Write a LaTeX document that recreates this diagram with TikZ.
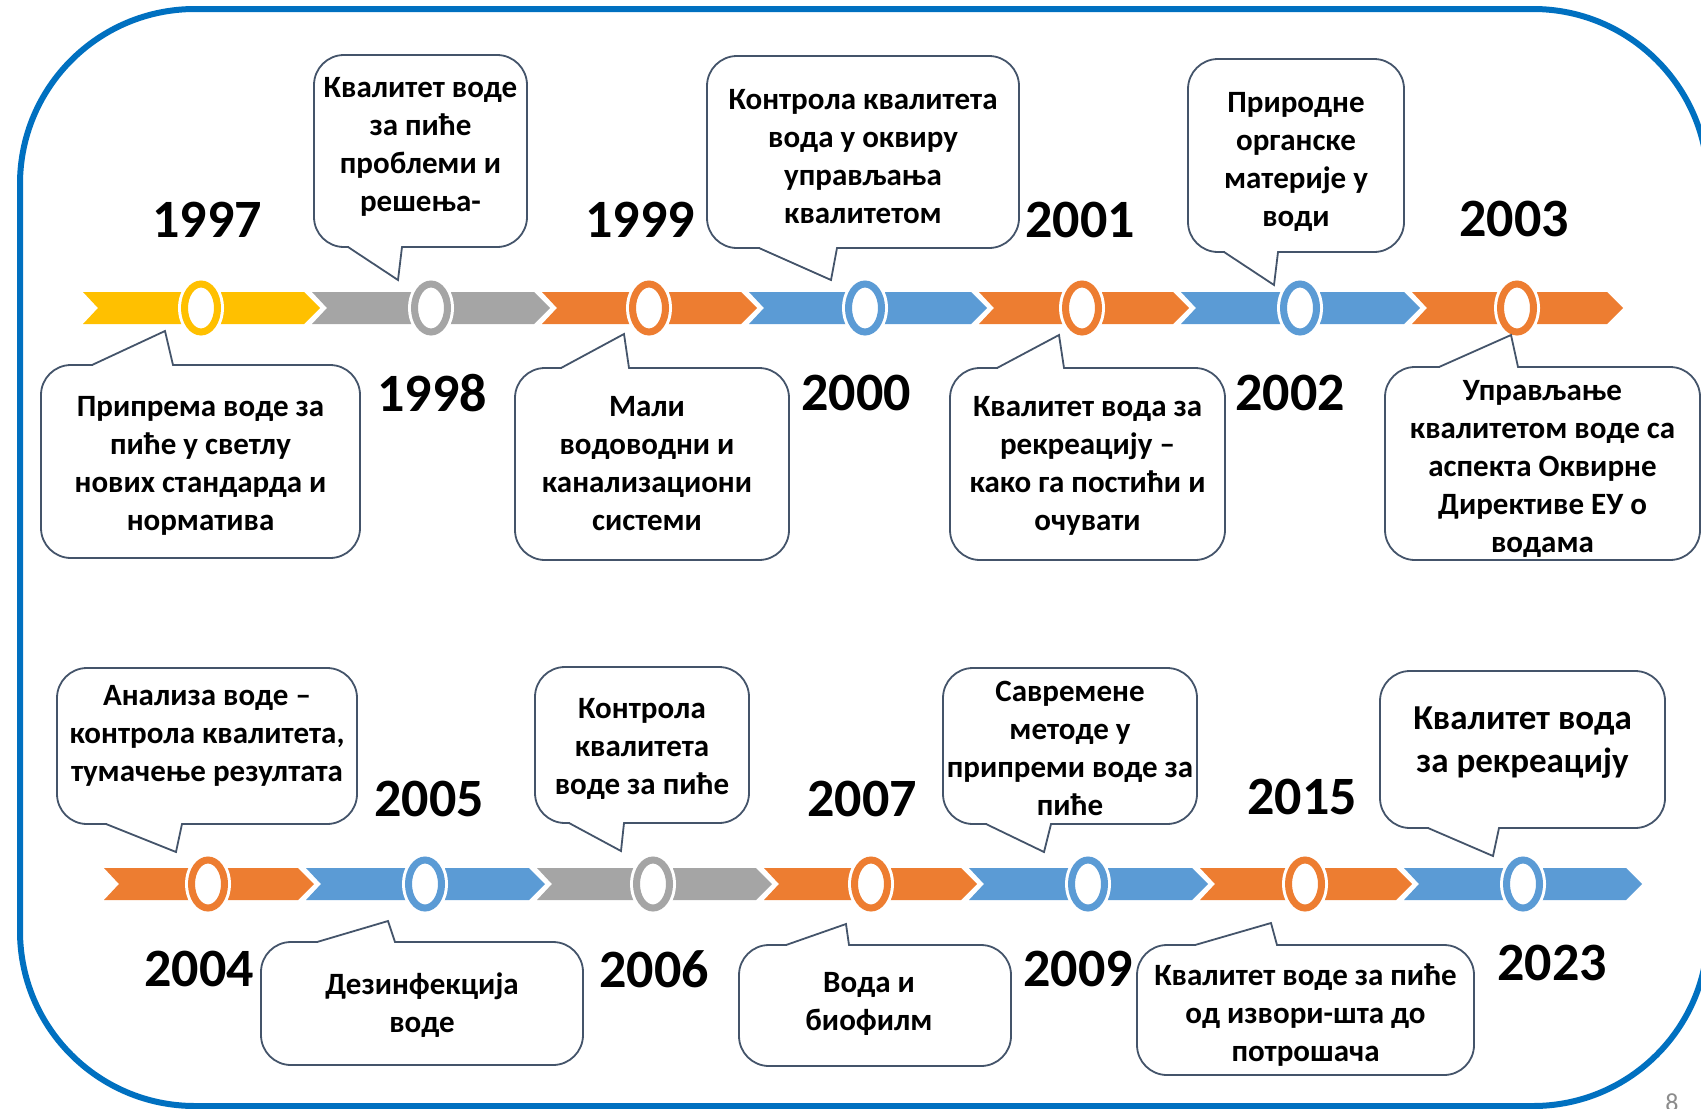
\documentclass[tikz,border=0pt]{standalone}
\usepackage{fontspec}
\setmainfont{Carlito}
\usetikzlibrary{shapes.geometric,fit}
\definecolor{ylw}{HTML}{FFC000}
\definecolor{gry}{HTML}{A5A5A5}
\definecolor{org}{HTML}{ED7D31}
\definecolor{blu}{HTML}{5B9BD5}
\definecolor{framecol}{HTML}{0070C0}
\definecolor{slate}{HTML}{44546A}

\begin{document}
\begin{tikzpicture}[x=0.5pt, y=-0.5pt,
  frame/.style={draw=framecol, line width=3pt, rounded corners=87.5pt},
  ring/.style={ellipse, minimum width=16.5pt, minimum height=24pt, inner sep=0pt, line width=3.5pt, fill=white, preaction={draw=white, line width=6.5pt}},
  year/.style={inner sep=0pt, font=\fontsize{27}{27}\selectfont\bfseries},
  callout/.style={draw=slate, line width=0.9pt, fill=white, rounded corners=15pt, inner sep=0pt},
  txt/.style={inner sep=0pt, align=center, font=\fontsize{15.5}{19}\selectfont\bfseries},
  tail/.style={draw=slate, line width=0.9pt}]
\useasboundingbox (0,0) rectangle (1701,1108);
\clip (0,0) rectangle (1701,1108);
\draw[frame] (20,9) rectangle (1708,1106);

% chevron bands
\foreach \a/\b/\col in {83/304/ylw, 312/534/gry, 542/741/org, 749/971/blu, 979/1173/org, 1181/1404/blu, 1412/1607/org}
  \fill[\col] (\a,292) -- (\b,292) -- (\b+16,308) -- (\b,324) -- (\a,324) -- (\a+15,308) -- cycle;
\foreach \a/\b/\col in {104/298/org, 306/529/blu, 537/756/gry, 764/961/org, 969/1192/blu, 1200/1396/org, 1404/1626/blu}
  \fill[\col] (\a,868) -- (\b,868) -- (\b+16,884) -- (\b,900) -- (\a,900) -- (\a+15,884) -- cycle;

% year markers
\foreach \n/\x/\y/\col in {1997/201/308/ylw, 1998/431/308/gry, 1999/649/308/org, 2000/865/308/blu, 2001/1082/308/org, 2002/1300/308/blu, 2003/1517/308/org,
  2004/208/884/org, 2005/425/884/blu, 2006/653/884/gry, 2007/871/884/org, 2009/1088/884/blu, 2015/1305/884/org, 2023/1523/884/blu}
  \node[ring, draw=\col] (c\n) at (\x,\y) {};

% callout boxes
\node[callout, fit={(314,55) (527,247)}] (b1) {};
\node[callout, fit={(707,56) (1019,248)}] (b2) {};
\node[callout, fit={(1188,59) (1404,252)}] (b3) {};
\node[callout, fit={(41,365) (360,558)}] (b4) {};
\node[callout, fit={(515,368) (789,560)}] (b5) {};
\node[callout, fit={(950,368) (1225,560)}] (b6) {};
\node[callout, fit={(1385,367) (1700,560)}] (b7) {};
\node[callout, fit={(57,668) (357,824)}] (b8) {};
\node[callout, fit={(535,667) (749,823)}] (b9) {};
\node[callout, fit={(943,668) (1197,824)}] (b10) {};
\node[callout, fit={(1380,671) (1665,828)}] (b11) {};
\node[callout, fit={(261,942) (583,1065)}] (b12) {};
\node[callout, fit={(739,945) (1011,1066)}] (b13) {};
\node[callout, fit={(1137,945) (1474,1075)}] (b14) {};

% callout tails
\foreach \xa/\xb/\ye/\tx/\ty in {348/402/247/398/280, 759/837/248/831/280, 1224/1278/252/1274/285,
  92/173/365/165/331, 561/629/368/624/334, 997/1064/368/1059/335, 1439/1518/367/1511/335,
  106/182/824/176/852, 569/624/823/621/851, 986/1051/824/1044/852, 1428/1499/828/1493/856,
  317/395/942/388/921, 786/849/945/846/924, 1195/1277/945/1271/923}
{
  \pgfmathsetmacro\yi{\ye-3*sign(\ty-\ye)}
  \fill[white] (\xa+1,\yi) -- (\xa+1,\ye) -- (\tx,\ty) -- (\xb-1,\ye) -- (\xb-1,\yi) -- cycle;
  \draw[tail] (\xa,\ye) -- (\tx,\ty) -- (\xb,\ye);
}

% callout texts
\node[txt] (t1) at ([yshift=1.9pt]b1.center) {Квалитет воде\\за пиће\\проблеми и\\решења-};
\node[txt] (t2) at ([yshift=-2.1pt]b2.center) {Контрола квалитета\\вода у оквиру\\управљања\\квалитетом};
\node[txt] (t3) at ([yshift=-3.4pt]b3.center) {Природне\\органске\\материје у\\води};
\node[txt] (t4) at ([yshift=-2.1pt]b4.center) {Припрема воде за\\пиће у светлу\\нових стандарда и\\норматива};
\node[txt] (t5) at ([xshift=-2.5pt]b5.center) {Мали\\водоводни и\\канализациони\\системи};
\node[txt] (t6) at ([yshift=-1.1pt]b6.center) {Квалитет вода за\\рекреацију –\\како га постићи и\\очувати};
\node[txt] (t7) at ([yshift=-2.6pt]b7.center) {Управљање\\квалитетом воде са\\аспекта Оквирне\\Директиве ЕУ о\\водама};
\node[txt] (t8) at ([yshift=5.2pt]b8.center) {Анализа воде –\\контрола квалитета,\\тумачење резултата};
\node[txt] (t9) at ([yshift=-2.1pt]b9.center) {Контрола\\квалитета\\воде за пиће};
\node[txt] (t10) at ([yshift=-1.1pt]b10.center) {Савремене\\методе у\\припреми воде за\\пиће};
\node[txt, font=\fontsize{17.5}{21.5}\selectfont\bfseries] (t11) at ([yshift=3.7pt]b11.center) {Квалитет вода\\за рекреацију};
\node[txt] (t12) at ([yshift=-0.6pt]b12.center) {Дезинфекција\\воде};
\node[txt] (t13) at ([xshift=-3pt,yshift=0.9pt]b13.center) {Вода и\\биофилм};
\node[txt] (t14) at ([yshift=-2.3pt]b14.center) {Квалитет воде за пиће\\од извори-шта до\\потрошача};

% years
\foreach \n/\x/\y in {1997/207/220, 1999/640/220, 2001/1080/220, 2003/1514/219,
  1998/432/393, 2000/856/393, 2002/1290/393,
  2005/429/799, 2007/862/799, 2015/1302/797,
  2004/199/969, 2006/654/969, 2009/1078/969, 2023/1552/963}
  \node[year] (y\n) at (\x,\y) {\n};

\node[anchor=north, inner sep=0pt, text=black!45, font=\fontsize{13}{13}\selectfont] (pgnum) at (1672,1093) {8};
\end{tikzpicture}
\end{document}
